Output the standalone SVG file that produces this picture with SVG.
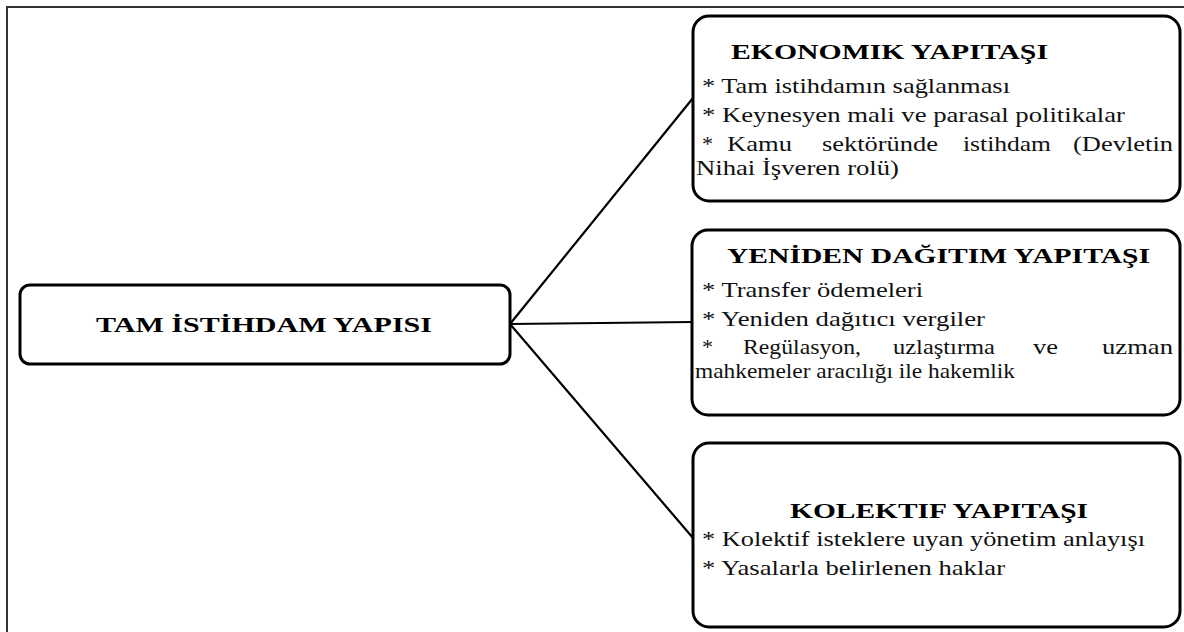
<svg xmlns="http://www.w3.org/2000/svg" width="1184" height="632" viewBox="0 0 1184 632" font-family="Liberation Serif, Times New Roman, serif">
  <style>
    .frame { fill: none; stroke: #333333; stroke-width: 2; }
    .box { fill: #ffffff; stroke: #000000; stroke-width: 3; }
    .link { fill: none; stroke: #000000; stroke-width: 2.2; }
    text { font-family: "Liberation Serif", "Times New Roman", serif; }
    .title { font-weight: bold; font-size: 22px; fill: #000000; }
    .item { font-size: 22px; fill: #111111; }
  </style>
  <rect width="1184" height="632" fill="#ffffff"/>
  <!-- page frame (top and left edges only) -->
  <path class="frame" d="M7 632 V7 H1184"/>

  <g id="connectors">
    <line class="link" x1="510" y1="324" x2="693" y2="98"/>
    <line class="link" x1="510" y1="324" x2="692" y2="322"/>
    <line class="link" x1="510" y1="324" x2="693" y2="538"/>
  </g>

  <g id="tam-istihdam">
    <rect class="box" x="20" y="285" width="490" height="79" rx="10"/>
    <text class="title" x="96" y="332" textLength="336" lengthAdjust="spacingAndGlyphs">TAM İSTİHDAM YAPISI</text>
  </g>

  <g id="ekonomik">
    <rect class="box" x="693" y="16" width="487" height="185" rx="16"/>
    <text class="title" x="731" y="59" textLength="317" lengthAdjust="spacingAndGlyphs">EKONOMIK YAPITAŞI</text>
    <text class="item" x="702" y="93" textLength="308" lengthAdjust="spacingAndGlyphs">* Tam istihdamın sağlanması</text>
    <text class="item" x="702" y="122" textLength="423" lengthAdjust="spacingAndGlyphs">* Keynesyen mali ve parasal politikalar</text>
    <!-- justified line: words placed at fixed x -->
    <text class="item" y="151"><tspan x="702">*</tspan><tspan x="727" textLength="65" lengthAdjust="spacingAndGlyphs">Kamu</tspan><tspan x="822" textLength="116" lengthAdjust="spacingAndGlyphs">sektöründe</tspan><tspan x="963" textLength="88" lengthAdjust="spacingAndGlyphs">istihdam</tspan><tspan x="1073" textLength="100" lengthAdjust="spacingAndGlyphs">(Devletin</tspan></text>
    <text class="item" x="696" y="175" textLength="203" lengthAdjust="spacingAndGlyphs">Nihai İşveren rolü)</text>
  </g>

  <g id="yeniden-dagitim">
    <rect class="box" x="692" y="230" width="488" height="185" rx="16"/>
    <text class="title" x="727" y="263" textLength="423" lengthAdjust="spacingAndGlyphs">YENİDEN DAĞITIM YAPITAŞI</text>
    <text class="item" x="702" y="297" textLength="221" lengthAdjust="spacingAndGlyphs">* Transfer ödemeleri</text>
    <text class="item" x="702" y="326" textLength="283" lengthAdjust="spacingAndGlyphs">* Yeniden dağıtıcı vergiler</text>
    <!-- justified line: words placed at fixed x -->
    <text class="item" y="354"><tspan x="702">*</tspan><tspan x="743" textLength="118" lengthAdjust="spacingAndGlyphs">Regülasyon,</tspan><tspan x="893" textLength="102" lengthAdjust="spacingAndGlyphs">uzlaştırma</tspan><tspan x="1033" textLength="25" lengthAdjust="spacingAndGlyphs">ve</tspan><tspan x="1102" textLength="71" lengthAdjust="spacingAndGlyphs">uzman</tspan></text>
    <text class="item" x="695" y="378" textLength="320" lengthAdjust="spacingAndGlyphs">mahkemeler aracılığı ile hakemlik</text>
  </g>

  <g id="kolektif">
    <rect class="box" x="693" y="443" width="487" height="184" rx="16"/>
    <text class="title" x="790" y="518" textLength="298" lengthAdjust="spacingAndGlyphs">KOLEKTIF YAPITAŞI</text>
    <text class="item" x="702" y="546" textLength="443" lengthAdjust="spacingAndGlyphs">* Kolektif isteklere uyan yönetim anlayışı</text>
    <text class="item" x="702" y="575" textLength="303" lengthAdjust="spacingAndGlyphs">* Yasalarla belirlenen haklar</text>
  </g>
</svg>
